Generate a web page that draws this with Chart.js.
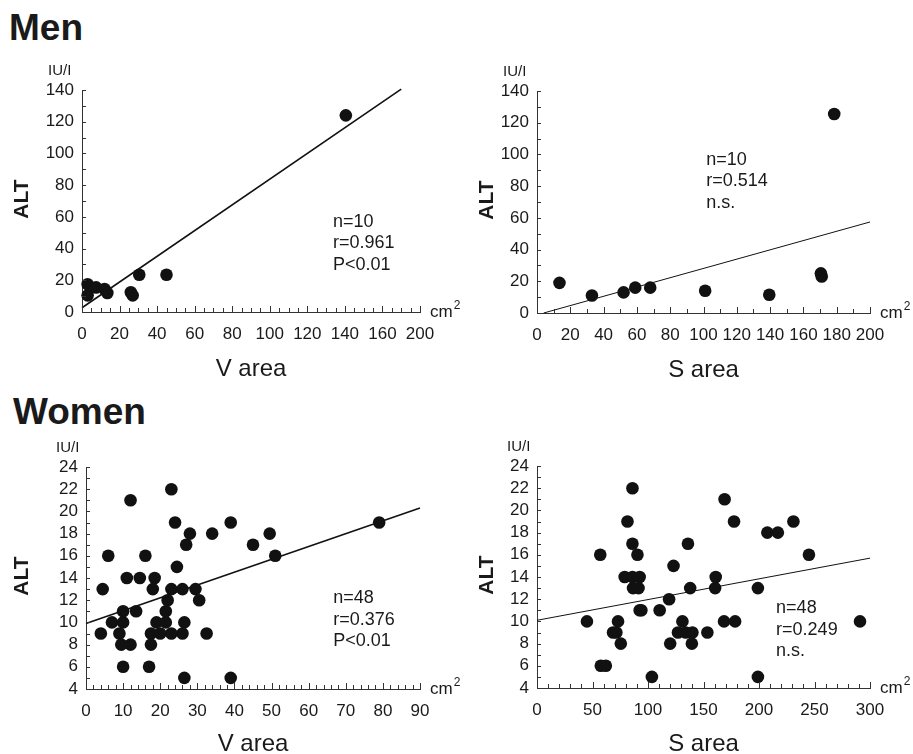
<!DOCTYPE html>
<html>
<head>
<meta charset="utf-8">
<script src="https://cdn.jsdelivr.net/npm/chart.js@4.4.0/dist/chart.umd.min.js"></script>
<style>
  body { margin: 0; width: 913px; height: 754px; overflow: hidden; background: #fff; position: relative;
         font-family: "Liberation Sans", Arial, sans-serif; color: #1a1a1a; }
  .title { position: absolute; font-weight: bold; font-size: 37px; line-height: 36px; }
  canvas { position: absolute; }
</style>
</head>
<body>
<div class="title" style="left:9px;top:10px">Men</div>
<div class="title" style="left:13px;top:394px">Women</div>
<canvas id="menV"></canvas>
<canvas id="menS"></canvas>
<canvas id="womenV"></canvas>
<canvas id="womenS"></canvas>
<script>
// ---- data ----
// Men, V area
const menVX = [3, 3, 7.5, 12, 13.5, 26, 27, 30.5, 45, 140.5];
const menVY = [17.5, 10.5, 15.5, 14.5, 12, 12.5, 10.5, 23.5, 23.5, 124];
const menVFitX = [0, 170];
const menVFitY = [2.7, 140.6];
const menVXTicks = [0, 20, 40, 60, 80, 100, 120, 140, 160, 180];
const menVXLabels = ['0', '20', '40', '60', '80', '100', '120', '140', '160', '200'];
const menVStats = ['n=10', 'r=0.961', 'P<0.01'];

// Men, S area
const menSX = [13.5, 33, 52, 59, 68, 101, 139.5, 170.5, 171, 178.5];
const menSY = [19, 11, 13, 16, 16, 14, 11.5, 25, 23, 125.5];
const menSFitX = [4, 200];
const menSFitY = [0, 57.4];
const menSXTicks = [0, 20, 40, 60, 80, 100, 120, 140, 160, 180, 200];
const menSXLabels = ['0', '20', '40', '60', '80', '100', '120', '140', '160', '180', '200'];
const menSStats = ['n=10', 'r=0.514', 'n.s.'];

// Women, V area
const womenVX = [23, 12, 24, 39, 79, 28, 34, 49.5, 27, 45, 6, 16, 51, 24.5, 11, 14.5, 18.5,
                 4.5, 18, 23, 26, 29.5, 22, 30.5, 13.5, 10, 21.5, 7, 10, 19, 21.5, 26.5,
                 4, 9, 17.5, 20, 23, 26, 32.5, 9.5, 12, 17.5, 10, 17, 26.5, 39];
const womenVY = [22, 21, 19, 19, 19, 18, 18, 18, 17, 17, 16, 16, 16, 15, 14, 14, 14,
                 13, 13, 13, 13, 13, 12, 12, 11, 11, 11, 10, 10, 10, 10, 10,
                 9, 9, 9, 9, 9, 9, 9, 8, 8, 8, 6, 6, 5, 5];
const womenVFitX = [0, 90];
const womenVFitY = [9.9, 20.3];
const womenVXTicks = [0, 10, 20, 30, 40, 50, 60, 70, 80, 90];
const womenVXLabels = ['0', '10', '20', '30', '40', '50', '60', '70', '80', '90'];
const womenVStats = ['n=48', 'r=0.376', 'P<0.01'];

// Women, S area
const womenSX = [86, 169, 81.5, 177.5, 231, 207.5, 217, 86, 136, 57, 90.5, 245, 123,
                 79, 86, 92.5, 161, 86.5, 91.5, 138, 160.5, 199, 119, 92.5, 94, 110.5,
                 45, 73, 131, 168.5, 178.5, 291, 68.5, 71.5, 127, 134, 140, 153.5,
                 75.5, 120, 139.5, 57.5, 62, 103.5, 199];
const womenSY = [22, 21, 19, 19, 19, 18, 18, 17, 17, 16, 16, 16, 15,
                 14, 14, 14, 14, 13, 13, 13, 13, 13, 12, 11, 11, 11,
                 10, 10, 10, 10, 10, 10, 9, 9, 9, 9, 9, 9,
                 8, 8, 8, 6, 6, 5, 5];
const womenSFitX = [0, 300];
const womenSFitY = [10.1, 15.7];
const womenSXTicks = [0, 50, 100, 150, 200, 250, 300];
const womenSXLabels = ['0', '50', '100', '150', '200', '250', '300'];
const womenSStats = ['n=48', 'r=0.249', 'n.s.'];

const FONT = '"Liberation Sans", Arial, sans-serif';
const INK = '#1a1a1a';

function range(a, b, s) {
  const out = [];
  for (let v = a; v <= b + 1e-9; v += s) out.push(+v.toFixed(4));
  return out;
}
function zip(xs, ys) { return xs.map((x, i) => ({ x: x, y: ys[i] })); }

// inner tick marks + all the loose text round each plot
const panelDeco = {
  id: 'panelDeco',
  afterDraw(chart, args, o) {
    const ctx = chart.ctx, a = chart.chartArea, x = chart.scales.x, y = chart.scales.y;
    ctx.save();
    ctx.strokeStyle = '#333';
    ctx.lineWidth = 1;
    ctx.beginPath();
    range(0, o.xMax, o.xMinor).forEach(v => {
      const px = Math.round(x.getPixelForValue(v)) + 0.5;
      const len = Math.abs(v / o.xMajor - Math.round(v / o.xMajor)) < 1e-6 ? 6 : 4;
      ctx.moveTo(px, a.bottom);
      ctx.lineTo(px, a.bottom - len);
    });
    range(o.yMin, o.yMax, o.yMinor).forEach(v => {
      const py = Math.round(y.getPixelForValue(v)) + 0.5;
      ctx.moveTo(a.left, py);
      ctx.lineTo(a.left + 4, py);
    });
    ctx.stroke();

    ctx.fillStyle = INK;

    // stats block
    ctx.textBaseline = 'middle';
    ctx.font = '18px ' + FONT;
    ctx.textAlign = 'left';
    const sx = x.getPixelForValue(o.statX), sy = y.getPixelForValue(o.statY);
    o.stats.forEach((t, i) => ctx.fillText(t, sx, sy + i * 21.5));

    // unit on y
    ctx.textBaseline = 'alphabetic';
    ctx.font = '15px ' + FONT;
    ctx.fillText('IU/I', a.left + o.unitDx, a.top - 15);

    // unit on x
    ctx.textBaseline = 'middle';
    ctx.font = '17px ' + FONT;
    ctx.fillText('cm', a.right + 10, a.bottom);
    const w = ctx.measureText('cm').width;
    ctx.font = '12px ' + FONT;
    ctx.fillText('2', a.right + 10 + w + 1, a.bottom - 6);

    // axis titles
    ctx.font = '24px ' + FONT;
    ctx.textAlign = 'center';
    ctx.fillText(o.xTitle, (a.left + a.right) / 2, a.bottom + o.titleDy);

    ctx.save();
    ctx.translate(a.left + o.altDx, (a.top + a.bottom) / 2 - 2);
    ctx.rotate(-Math.PI / 2);
    ctx.font = 'bold 21px ' + FONT;
    ctx.fillText('ALT', 0, 0);
    ctx.restore();

    ctx.restore();
  }
};

function makePanel(p) {
  const cv = document.getElementById(p.id);
  const W = p.R - p.L + 150, H = p.B - p.T + 110;
  cv.width = W; cv.height = H;
  cv.style.left = (p.L - 90) + 'px';
  cv.style.top = (p.T - 40) + 'px';
  cv.style.width = W + 'px';
  cv.style.height = H + 'px';

  new Chart(cv, {
    type: 'scatter',
    data: {
      datasets: [
        {
          data: zip(p.xs, p.ys),
          pointRadius: 6.3,
          pointHoverRadius: 6.3,
          backgroundColor: '#111',
          borderWidth: 0,
          clip: false
        },
        {
          type: 'line',
          data: zip(p.fitX, p.fitY),
          borderColor: '#111',
          borderWidth: p.fitW,
          pointRadius: 0,
          fill: false,
          tension: 0,
          clip: false
        }
      ]
    },
    options: {
      responsive: false,
      animation: false,
      devicePixelRatio: 1,
      events: [],
      layout: { padding: { left: 0, top: 40, right: 60, bottom: 0 }, autoPadding: false },
      plugins: {
        legend: { display: false },
        tooltip: { enabled: false },
        panelDeco: p
      },
      scales: {
        x: {
          type: 'linear',
          min: 0,
          max: p.xMax,
          grid: { display: false, drawTicks: false },
          border: { display: true, color: '#333', width: 1 },
          afterBuildTicks: s => { s.ticks = p.xTicks.map(v => ({ value: v })); },
          afterFit: s => { s.height = 70; },
          ticks: {
            autoSkip: false,
            maxRotation: 0,
            padding: 12,
            color: INK,
            font: { family: FONT, size: 17 },
            callback: (v, i) => p.xLabels[i]
          }
        },
        y: {
          type: 'linear',
          min: p.yMin,
          max: p.yMax,
          grid: { display: false, drawTicks: false },
          border: { display: true, color: '#333', width: 1 },
          afterFit: s => { s.width = 90; },
          ticks: {
            stepSize: p.yStep,
            autoSkip: false,
            padding: 8,
            color: INK,
            font: { family: FONT, size: 17 }
          }
        }
      }
    },
    plugins: [panelDeco]
  });
}

makePanel({ id: 'menV', L: 82, T: 90, R: 420, B: 312, xs: menVX, ys: menVY,
  fitX: menVFitX, fitY: menVFitY, fitW: 1.6,
  xMax: 180, xTicks: menVXTicks, xLabels: menVXLabels, xMinor: 5, xMajor: 20,
  yMin: 0, yMax: 140, yStep: 20, yMinor: 10,
  xTitle: 'V area', titleDy: 57, stats: menVStats, statX: 133.7, statY: 56.9,
  altDx: -60, unitDx: -34 });

makePanel({ id: 'menS', L: 537, T: 91, R: 870, B: 313, xs: menSX, ys: menSY,
  fitX: menSFitX, fitY: menSFitY, fitW: 1,
  xMax: 200, xTicks: menSXTicks, xLabels: menSXLabels, xMinor: 10, xMajor: 20,
  yMin: 0, yMax: 140, yStep: 20, yMinor: 10,
  xTitle: 'S area', titleDy: 57, stats: menSStats, statX: 101.6, statY: 96.7,
  altDx: -50, unitDx: -34 });

makePanel({ id: 'womenV', L: 86, T: 467, R: 420, B: 689, xs: womenVX, ys: womenVY,
  fitX: womenVFitX, fitY: womenVFitY, fitW: 1.6,
  xMax: 90, xTicks: womenVXTicks, xLabels: womenVXLabels, xMinor: 2, xMajor: 10,
  yMin: 4, yMax: 24, yStep: 2, yMinor: 1,
  xTitle: 'V area', titleDy: 55, stats: womenVStats, statX: 66.6, statY: 12.17,
  altDx: -64, unitDx: -30 });

makePanel({ id: 'womenS', L: 537, T: 466, R: 870, B: 688, xs: womenSX, ys: womenSY,
  fitX: womenSFitX, fitY: womenSFitY, fitW: 1,
  xMax: 300, xTicks: womenSXTicks, xLabels: womenSXLabels, xMinor: 10, xMajor: 50,
  yMin: 4, yMax: 24, yStep: 2, yMinor: 1,
  xTitle: 'S area', titleDy: 56, stats: womenSStats, statX: 215.4, statY: 11.2,
  altDx: -50, unitDx: -30 });
</script>
</body>
</html>
